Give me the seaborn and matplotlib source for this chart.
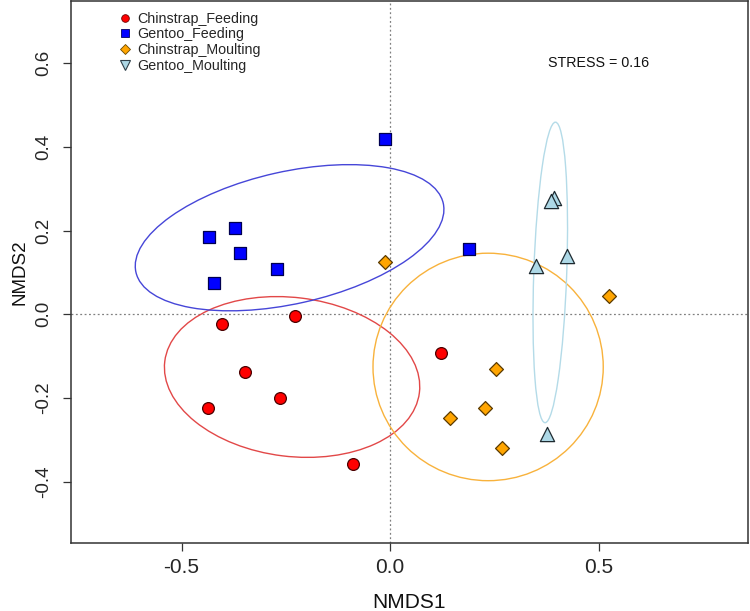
import numpy as np
import pandas as pd
import matplotlib
matplotlib.use("Agg")
import matplotlib.pyplot as plt
import seaborn as sns
from matplotlib.patches import Ellipse
from matplotlib.lines import Line2D

# NMDS scores
cf_x = [-0.403, -0.227, -0.348, -0.264, -0.437, -0.089, 0.122]
cf_y = [-0.023, -0.003, -0.138, -0.200, -0.223, -0.358, -0.093]
gf_x = [-0.012, -0.435, -0.371, -0.360, -0.272, -0.422, 0.188]
gf_y = [0.418, 0.184, 0.207, 0.146, 0.109, 0.074, 0.157]
cm_x = [-0.012, 0.526, 0.254, 0.227, 0.144, 0.269]
cm_y = [0.124, 0.043, -0.130, -0.225, -0.249, -0.319]
gm_x = [0.393, 0.386, 0.424, 0.350, 0.375]
gm_y = [0.279, 0.272, 0.140, 0.116, -0.287]

groups = ["Chinstrap_Feeding", "Gentoo_Feeding", "Chinstrap_Moulting", "Gentoo_Moulting"]

# ellipses: centre x, centre y, full width, full height, angle (deg)
ell_cx = [-0.235, -0.241, 0.235, 0.384]
ell_cy = [-0.150, 0.183, -0.126, 0.100]
ell_w = [0.615, 0.755, 0.552, 0.719]
ell_h = [0.380, 0.316, 0.544, 0.079]
ell_ang = [-7.0, 12.6, 0.0, 88.0]

stress = 0.16

df = pd.DataFrame({
    "NMDS1": cf_x + gf_x + cm_x + gm_x,
    "NMDS2": cf_y + gf_y + cm_y + gm_y,
    "group": [groups[0]] * len(cf_x) + [groups[1]] * len(gf_x)
             + [groups[2]] * len(cm_x) + [groups[3]] * len(gm_x),
})

fills = {"Chinstrap_Feeding": "#ff0000", "Gentoo_Feeding": "#0000ff",
         "Chinstrap_Moulting": "#ffa500", "Gentoo_Moulting": "#add8e6"}
edges = {"Chinstrap_Feeding": "#4a0000", "Gentoo_Feeding": "#000050",
         "Chinstrap_Moulting": "#5a3a00", "Gentoo_Moulting": "#1e2a30"}
marks = {"Chinstrap_Feeding": "o", "Gentoo_Feeding": "s",
         "Chinstrap_Moulting": "D", "Gentoo_Moulting": "^"}
msize = {"Chinstrap_Feeding": 72, "Gentoo_Feeding": 66,
         "Chinstrap_Moulting": 50, "Gentoo_Moulting": 105}
ell_cols = ["#e24848", "#4646d8", "#f8b23c", "#b4dbe8"]

sns.set_style("white")
plt.rcParams["font.family"] = ["Liberation Sans", "DejaVu Sans"]
plt.rcParams["axes.unicode_minus"] = False

fig = plt.figure(figsize=(7.5, 6.11), dpi=100)
ax = fig.add_axes([0.0947, 0.1113, 0.9026, 0.887])

ax.axhline(0, color="#808080", lw=0.9, ls=(0, (1.5, 2)), zorder=1)
ax.axvline(0, color="#808080", lw=0.9, ls=(0, (1.5, 2)), zorder=1)

for i in range(len(groups)):
    ax.add_patch(Ellipse((ell_cx[i], ell_cy[i]), ell_w[i], ell_h[i], angle=ell_ang[i],
                         fill=False, edgecolor=ell_cols[i], lw=1.0, zorder=2))

for g in groups:
    sub = df[df["group"] == g]
    sns.scatterplot(data=sub, x="NMDS1", y="NMDS2", ax=ax, marker=marks[g], s=msize[g],
                    color=fills[g], edgecolor=edges[g], linewidth=0.9, zorder=3, legend=False)

ax.text(0.5, 0.6, "STRESS = %.2f" % stress, ha="center", va="center", fontsize=10.3, color="#111111")

handles = [
    Line2D([], [], ls="", marker="o", ms=5.5, mfc=fills[groups[0]], mec="#6a0000", mew=0.6),
    Line2D([], [], ls="", marker="s", ms=5.5, mfc=fills[groups[1]], mec="#000060", mew=0.6),
    Line2D([], [], ls="", marker="D", ms=5, mfc=fills[groups[2]], mec="#6a4a00", mew=0.6),
    Line2D([], [], ls="", marker="v", ms=6.5, mfc=fills[groups[3]], mec="#30404a", mew=0.8),
]
ax.legend(handles, groups, loc="upper left", bbox_to_anchor=(0.055, 1.0), frameon=False,
          fontsize=10.3, handlelength=0.8, handletextpad=0.5, labelspacing=0.12,
          borderaxespad=0.35)

ax.set_xlim(-0.765, 0.858)
ax.set_ylim(-0.547, 0.749)
ax.set_xticks([-0.5, 0.0, 0.5])
ax.set_xticklabels(["-0.5", "0.0", "0.5"], fontsize=15)
ax.set_yticks([-0.4, -0.2, 0.0, 0.2, 0.4, 0.6])
ax.set_yticklabels(["-0.4", "-0.2", "0.0", "0.2", "0.4", "0.6"], fontsize=13.5,
                   rotation=90, va="center")
ax.tick_params(axis="both", direction="out", length=5.5, width=0.9, color="#333333",
               bottom=True, left=True)
ax.tick_params(axis="x", pad=5)
ax.tick_params(axis="y", pad=8)
ax.set_xlabel("NMDS1", fontsize=15, labelpad=12, color="#111111")
ax.set_ylabel("NMDS2", fontsize=13.5, labelpad=5, color="#111111")
for sp in ax.spines.values():
    sp.set_color("#333333")
    sp.set_linewidth(1.1)

fig.savefig("out.png", dpi=100)
